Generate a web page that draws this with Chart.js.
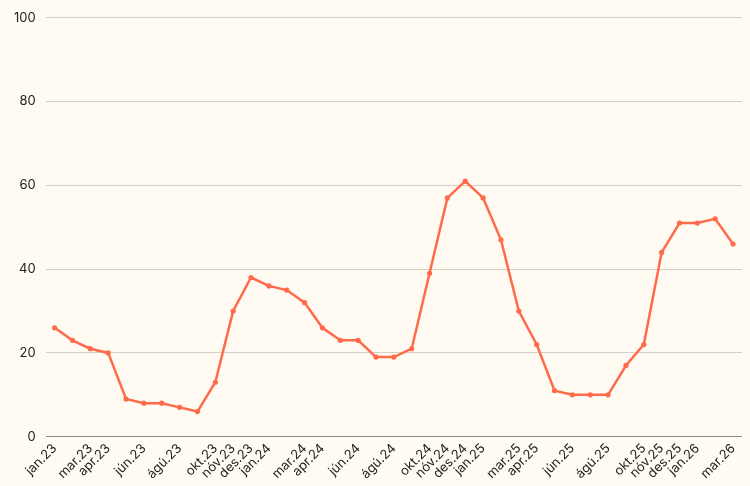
<!DOCTYPE html>
<html>
<head>
<meta charset="utf-8">
<script src="https://cdn.jsdelivr.net/npm/chart.js@4"></script>
<style>
  html, body { margin: 0; padding: 0; background: #FFFAF2; }
  #wrap { width: 750px; height: 486px; position: relative; }
</style>
</head>
<body>
<div id="wrap"><canvas id="c" width="750" height="486"></canvas></div>
<script>
const months = [
  "jan.23","feb.23","mar.23","apr.23","maí.23","jún.23","júl.23","ágú.23","sep.23","okt.23","nóv.23","des.23",
  "jan.24","feb.24","mar.24","apr.24","maí.24","jún.24","júl.24","ágú.24","sep.24","okt.24","nóv.24","des.24",
  "jan.25","feb.25","mar.25","apr.25","maí.25","jún.25","júl.25","ágú.25","sep.25","okt.25","nóv.25","des.25",
  "jan.26","feb.26","mar.26"
];
const hiddenPrefixes = ["feb", "maí", "júl", "sep"];
const values = [
  26, 23, 21, 20, 9, 8, 8, 7, 6, 13, 30, 38,
  36, 35, 32, 26, 23, 23, 19, 19, 21, 39, 57, 61,
  57, 47, 30, 22, 11, 10, 10, 10, 17, 22, 44, 51,
  51, 52, 46
];
const yTicks = [0, 20, 40, 60, 80, 100];

new Chart(document.getElementById('c'), {
  type: 'line',
  data: {
    labels: months,
    datasets: [{
      data: values,
      borderColor: '#FF6B4A',
      backgroundColor: '#FF6B4A',
      borderWidth: 2.5,
      pointRadius: 2.6,
      pointBorderWidth: 0,
      pointHoverRadius: 2.6,
      tension: 0
    }]
  },
  options: {
    responsive: false,
    animation: false,
    layout: { padding: { left: 4, right: 8, top: 10, bottom: 0 } },
    plugins: { legend: { display: false }, tooltip: { enabled: false } },
    scales: {
      x: {
        offset: true,
        grid: { display: false, drawTicks: false },
        border: { display: false },
        ticks: {
          autoSkip: false,
          maxRotation: 45,
          minRotation: 45,
          padding: 4,
          color: '#222',
          font: { family: 'Inter', size: 13 },
          callback: function(v, i) {
            const l = months[i];
            return hiddenPrefixes.some(p => l.startsWith(p)) ? '' : l;
          }
        }
      },
      y: {
        min: 0, max: 100,
        afterBuildTicks: axis => { axis.ticks = yTicks.map(v => ({ value: v })); },
        grid: {
          drawTicks: false,
          color: ctx => ctx.tick && ctx.tick.value === 0 ? '#8a8a8a' : '#d4d0c8',
          lineWidth: 1
        },
        border: { display: false },
        ticks: {
          padding: 10,
          color: '#222',
          font: { family: 'Inter', size: 13 }
        }
      }
    }
  },
  plugins: [{
    id: 'bg',
    beforeDraw: chart => {
      const c = chart.ctx;
      c.save();
      c.fillStyle = '#FFFAF2';
      c.fillRect(0, 0, chart.width, chart.height);
      c.restore();
    }
  }]
});
</script>
</body>
</html>
